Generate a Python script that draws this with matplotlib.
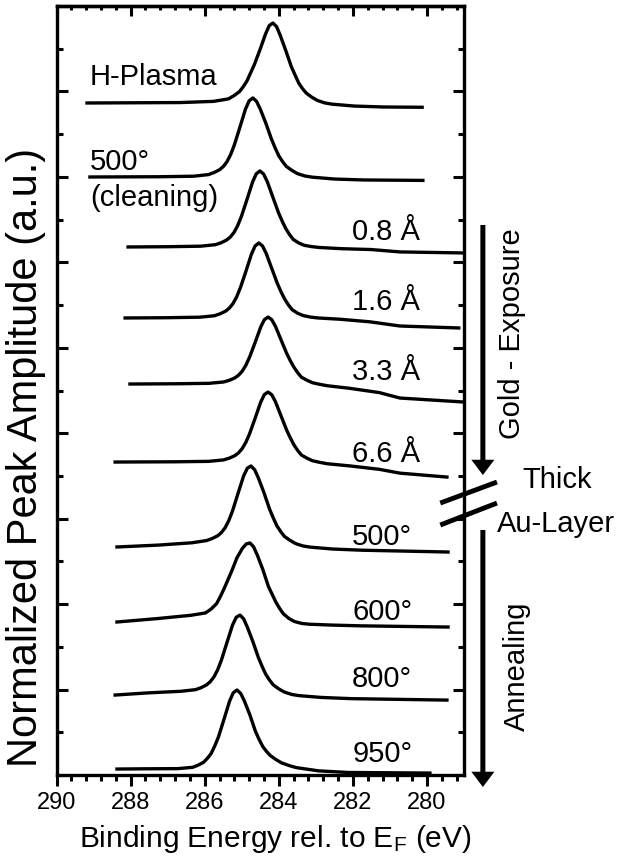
import matplotlib.pyplot as plt
from matplotlib.patches import ArrowStyle, FancyArrowPatch
from matplotlib.ticker import MultipleLocator, NullFormatter

plt.rcParams["font.family"] = ["Liberation Sans", "DejaVu Sans"]
plt.rcParams["mathtext.fontset"] = "custom"
plt.rcParams["mathtext.rm"] = "Liberation Sans"
plt.rcParams["mathtext.it"] = "Liberation Sans:italic"

# C 1s spectra: binding energy (eV) and intensity above each trace's baseline
e_hplasma = [289.18, 286.66, 285.76, 285.36, 285.21, 285.06, 284.96, 284.86, 284.76, 284.66, 284.51,
             284.36, 284.26, 284.16, 284.06, 283.96, 283.81, 283.66, 283.56, 283.46, 283.36, 283.26,
             283.11, 282.96, 282.76, 282.56, 281.96, 281.16, 280.13]
i_hplasma = [0.0, 0.005, 0.019, 0.048, 0.086, 0.134, 0.191, 0.258, 0.354, 0.450, 0.622,
             0.806, 0.905, 0.936, 0.893, 0.790, 0.611, 0.422, 0.326, 0.231, 0.168, 0.116,
             0.068, 0.030, 0.001, -0.014, -0.036, -0.047, -0.050]

e_clean = [289.10, 287.20, 286.30, 285.90, 285.75, 285.60, 285.50, 285.40, 285.30, 285.20, 285.05,
           284.90, 284.80, 284.70, 284.60, 284.50, 284.35, 284.20, 284.10, 284.00, 283.90, 283.80,
           283.65, 283.50, 283.30, 283.10, 282.50, 281.70, 280.11]
i_clean = [0.0, 0.003, 0.009, 0.028, 0.052, 0.085, 0.122, 0.179, 0.263, 0.376, 0.583,
           0.795, 0.892, 0.925, 0.884, 0.794, 0.629, 0.445, 0.341, 0.247, 0.181, 0.125,
           0.078, 0.040, 0.012, -0.002, -0.024, -0.035, -0.040]

e_au08 = [288.07, 287.01, 286.11, 285.71, 285.56, 285.41, 285.31, 285.21, 285.11, 285.01, 284.86,
          284.71, 284.61, 284.51, 284.41, 284.31, 284.16, 284.01, 283.91, 283.81, 283.71, 283.61,
          283.46, 283.31, 283.11, 282.91, 282.31, 281.51, 280.73, 279.03]
i_au08 = [0.0, 0.003, 0.009, 0.027, 0.049, 0.081, 0.116, 0.170, 0.251, 0.358, 0.555,
          0.759, 0.856, 0.890, 0.853, 0.763, 0.582, 0.402, 0.303, 0.214, 0.145, 0.088,
          0.046, 0.019, 0.004, -0.006, -0.020, -0.030, -0.058, -0.070]

e_au16 = [288.15, 287.04, 286.14, 285.74, 285.59, 285.44, 285.34, 285.24, 285.14, 285.04, 284.89,
          284.74, 284.64, 284.54, 284.44, 284.34, 284.19, 284.04, 283.94, 283.84, 283.74, 283.64,
          283.49, 283.34, 283.14, 282.94, 282.34, 281.54, 280.73, 279.14]
i_au16 = [0.0, 0.003, 0.009, 0.026, 0.048, 0.079, 0.114, 0.167, 0.246, 0.351, 0.544,
          0.746, 0.843, 0.878, 0.843, 0.755, 0.579, 0.404, 0.306, 0.220, 0.152, 0.097,
          0.055, 0.028, 0.010, 0.0, -0.015, -0.045, -0.094, -0.117]

e_au33 = [288.02, 286.79, 285.89, 285.49, 285.34, 285.19, 285.09, 284.99, 284.89, 284.79, 284.64,
          284.49, 284.39, 284.29, 284.19, 284.09, 283.94, 283.79, 283.69, 283.59, 283.49, 283.39,
          283.24, 283.09, 282.89, 282.69, 282.09, 281.29, 280.73, 279.03]
i_au33 = [0.0, 0.003, 0.008, 0.024, 0.043, 0.071, 0.102, 0.149, 0.220, 0.314, 0.486,
          0.666, 0.753, 0.784, 0.753, 0.674, 0.517, 0.361, 0.273, 0.196, 0.132, 0.080,
          0.044, 0.015, -0.004, -0.020, -0.050, -0.100, -0.164, -0.210]

e_au66 = [288.42, 286.79, 285.89, 285.49, 285.34, 285.19, 285.09, 284.99, 284.89, 284.79, 284.64,
          284.49, 284.39, 284.29, 284.19, 284.09, 283.94, 283.79, 283.69, 283.59, 283.49, 283.39,
          283.24, 283.09, 282.89, 282.69, 282.09, 281.29, 280.73, 279.46]
i_au66 = [0.0, 0.003, 0.008, 0.025, 0.045, 0.074, 0.107, 0.157, 0.231, 0.330, 0.512,
          0.700, 0.790, 0.819, 0.787, 0.705, 0.540, 0.375, 0.283, 0.200, 0.135, 0.082,
          0.045, 0.015, -0.004, -0.020, -0.045, -0.085, -0.130, -0.176]

e_t500 = [288.37, 287.25, 286.35, 285.95, 285.80, 285.65, 285.55, 285.45, 285.35, 285.25, 285.10,
          284.95, 284.85, 284.75, 284.65, 284.55, 284.40, 284.25, 284.15, 284.05, 283.95, 283.85,
          283.70, 283.55, 283.35, 283.15, 282.55, 281.75, 279.43]
i_t500 = [0.0, 0.022, 0.049, 0.075, 0.099, 0.131, 0.169, 0.225, 0.310, 0.422, 0.629,
          0.832, 0.922, 0.948, 0.902, 0.806, 0.634, 0.443, 0.340, 0.246, 0.181, 0.124,
          0.078, 0.040, 0.012, -0.002, -0.024, -0.038, -0.059]

e_t600 = [288.37, 287.28, 286.38, 285.98, 285.83, 285.68, 285.58, 285.48, 285.38, 285.28, 285.13,
          284.98, 284.88, 284.78, 284.68, 284.58, 284.43, 284.28, 284.18, 284.08, 283.98, 283.88,
          283.73, 283.58, 283.38, 283.18, 282.58, 281.78, 279.43]
i_t600 = [0.0, 0.040, 0.078, 0.106, 0.151, 0.215, 0.297, 0.388, 0.488, 0.588, 0.752,
          0.864, 0.913, 0.925, 0.879, 0.782, 0.612, 0.415, 0.324, 0.233, 0.160, 0.097,
          0.042, 0.006, -0.017, -0.026, -0.036, -0.045, -0.059]

e_t800 = [288.42, 287.55, 286.65, 286.25, 286.10, 285.95, 285.85, 285.75, 285.65, 285.55, 285.40,
          285.25, 285.15, 285.05, 284.95, 284.85, 284.70, 284.55, 284.45, 284.35, 284.25, 284.15,
          284.00, 283.85, 283.65, 283.45, 282.85, 282.05, 279.46]
i_t800 = [0.0, 0.025, 0.044, 0.063, 0.086, 0.119, 0.157, 0.213, 0.297, 0.409, 0.615,
          0.819, 0.910, 0.936, 0.892, 0.795, 0.625, 0.437, 0.334, 0.241, 0.175, 0.119,
          0.072, 0.035, 0.007, -0.007, -0.028, -0.042, -0.059]

e_t950 = [288.37, 287.63, 286.73, 286.33, 286.18, 286.03, 285.93, 285.83, 285.73, 285.63, 285.48,
          285.33, 285.23, 285.13, 285.03, 284.93, 284.78, 284.63, 284.53, 284.43, 284.33, 284.23,
          284.08, 283.93, 283.73, 283.53, 282.93, 282.13, 279.92]
i_t950 = [0.0, 0.003, 0.005, 0.020, 0.045, 0.080, 0.125, 0.180, 0.270, 0.376, 0.583,
          0.794, 0.893, 0.925, 0.885, 0.797, 0.632, 0.440, 0.345, 0.261, 0.205, 0.158,
          0.112, 0.073, 0.042, 0.017, -0.021, -0.040, -0.047]

energies = [e_hplasma, e_clean, e_au08, e_au16, e_au33, e_au66, e_t500, e_t600, e_t800, e_t950]
intensities = [i_hplasma, i_clean, i_au08, i_au16, i_au33, i_au66, i_t500, i_t600, i_t800, i_t950]
offsets = [7.865, 6.999, 6.180, 5.349, 4.576, 3.663, 2.669, 1.791, 0.936, 0.070]

right_labels = ["0.8 Å", "1.6 Å", "3.3 Å", "6.6 Å", "500°", "600°", "800°", "950°"]
right_label_y = [6.262, 5.442, 4.623, 3.667, 2.692, 1.814, 1.034, 0.156]

fig = plt.figure(figsize=(6.18, 8.58), dpi=100)
ax = fig.add_axes([0.0916, 0.0967, 0.6592, 0.8963])

for e, i, off in zip(energies, intensities, offsets):
    ax.plot(e, [v + off for v in i], color="black", lw=2.4, solid_joinstyle="round")

ax.set_xlim(290, 279)
ax.set_ylim(0, 9)

for s in ax.spines.values():
    s.set_linewidth(2.4)

ax.xaxis.set_major_locator(MultipleLocator(2))
ax.xaxis.set_minor_locator(MultipleLocator(0.4))
ax.yaxis.set_major_locator(MultipleLocator(1))
ax.yaxis.set_minor_locator(MultipleLocator(0.5))
ax.yaxis.set_major_formatter(NullFormatter())

ax.tick_params(axis="x", which="both", direction="out", top=False, width=2.2, labelsize=17, pad=4.5)
ax.tick_params(axis="x", which="major", length=8)
ax.tick_params(axis="x", which="minor", length=4)
ax.tick_params(axis="y", which="both", direction="in", left=True, right=True, width=2.2,
               labelleft=False)
ax.tick_params(axis="y", which="major", length=8)
ax.tick_params(axis="y", which="minor", length=4.3)

# top axis carries inward ticks only
top = ax.secondary_xaxis("top")
top.xaxis.set_major_locator(MultipleLocator(2))
top.xaxis.set_minor_locator(MultipleLocator(0.4))
top.tick_params(which="both", direction="in", width=2.2, labeltop=False)
top.tick_params(which="major", length=7)
top.tick_params(which="minor", length=3)
top.spines["top"].set_linewidth(2.4)

fs = 21
ax.text(289.10, 8.076, "H-Plasma", fontsize=fs, ha="left", va="baseline")
ax.text(289.10, 7.081, "500°", fontsize=fs, ha="left", va="baseline")
ax.text(289.09, 6.66, "(cleaning)", fontsize=fs, ha="left", va="baseline")
for lab, y in zip(right_labels, right_label_y):
    ax.text(282.02, y, lab, fontsize=fs, ha="left", va="baseline")

# arrows and break mark on the right side
arrow_style = ArrowStyle.Simple(head_length=0.55, head_width=0.83, tail_width=0.18)
for y0, y1 in [(6.437, 3.511), (2.868, -0.14)]:
    ax.add_patch(FancyArrowPatch((278.49, y0), (278.49, y1), arrowstyle=arrow_style,
                                 mutation_scale=20, color="black", lw=0,
                                 shrinkA=0, shrinkB=0, clip_on=False))
ax.plot([279.64, 278.11], [3.183, 3.429], color="black", lw=3.5, clip_on=False,
        solid_capstyle="butt")
ax.plot([279.64, 278.11], [2.926, 3.183], color="black", lw=3.5, clip_on=False,
        solid_capstyle="butt")

ax.text(277.70, 5.162, "Gold - Exposure", fontsize=fs, rotation=90, ha="center", va="center",
        clip_on=False)
ax.text(277.57, 1.276, "Annealing", fontsize=fs, rotation=90, ha="center", va="center",
        clip_on=False)
ax.text(277.43, 3.359, "Thick", fontsize=fs, ha="left", va="baseline", clip_on=False)
ax.text(278.11, 2.844, "Au-Layer", fontsize=fs, ha="left", va="baseline", clip_on=False)

ax.text(0.536, -0.0936, r"Binding Energy rel. to E$_\mathrm{F}$ (eV)", fontsize=21.5,
        ha="center", va="baseline", transform=ax.transAxes)
ax.text(-0.075, 0.4135, "Normalized Peak Amplitude (a.u.)", fontsize=30, rotation=90,
        ha="center", va="center", transform=ax.transAxes)

fig.savefig("out.png", dpi=100)
